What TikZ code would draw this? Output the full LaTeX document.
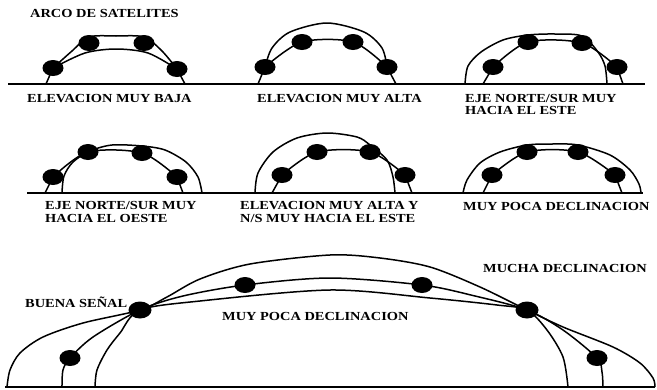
\documentclass[tikz,border=0pt]{standalone}
\usepackage{fontspec}
\newfontfamily\lblfont{Liberation Serif}[FakeStretch=1.17]
\usetikzlibrary{shapes.geometric}

\begin{document}
\begin{tikzpicture}[x=1pt, y=-1pt,
    every sat/.style={ellipse, fill=black, minimum width=21pt, minimum height=16pt, inner sep=0pt},
    big sat/.style={every sat, minimum width=23pt, minimum height=17pt},
    orbit/.style={line width=1.5pt},
    ground/.style={line width=1.7pt},
    lbl/.style={font=\lblfont\bfseries\fontsize{12.3}{14}\selectfont, inner sep=0pt, anchor=base west}]

    \useasboundingbox (0,0) rectangle (657,389);

    % Ground lines
    \coordinate (R1-l) at (8,84);   \coordinate (R1-r) at (645,84);
    \coordinate (R2-l) at (27,193); \coordinate (R2-r) at (643,193);
    \coordinate (R3-l) at (5,387);  \coordinate (R3-r) at (655,387);
    \draw[ground] (R1-l) -- (R1-r);
    \draw[ground] (R2-l) -- (R2-r);
    \draw[ground] (R3-l) -- (R3-r);

    % Title
    \node[lbl] (title) at (30,17) {ARCO DE SATELITES};

    % Panel A - elevacion muy baja
    \foreach \i/\x/\y in {1/53/68, 2/89/43, 3/144/43, 4/177/69}
        \node[every sat] (A-\i) at (\x,\y) {};
    \coordinate (A-l) at (46,84);
    \coordinate (A-r) at (185,84);
    \draw[orbit] (A-l) -- (A-1.center);
    \draw[orbit] (A-r) -- (A-4.center);
    \draw[orbit] plot[smooth] coordinates {(A-1.center) (72,51) (89,37) (116,36) (144,37) (162,51) (A-4.center)};
    \draw[orbit] plot[smooth] coordinates {(A-1.center) (85,53) (116,49) (148,53) (A-4.center)};
    \node[lbl] (A-txt) at (27,102) {ELEVACION MUY BAJA};

    % Panel B - elevacion muy alta
    \foreach \i/\x/\y in {1/265/67, 2/302/42, 3/353/42, 4/387/67}
        \node[every sat] (B-\i) at (\x,\y) {};
    \coordinate (B-l) at (258,84);
    \coordinate (B-r) at (396,84);
    \draw[orbit] (B-l) -- (B-1.center);
    \draw[orbit] (B-r) -- (B-4.center);
    \draw[orbit] plot[smooth] coordinates {(B-1.center) (B-2.center) (B-3.center) (B-4.center)};
    \draw[orbit] plot[smooth] coordinates {(B-1.center) (272,48) (290,32) (327,23) (364,32) (382,48) (B-4.center)};
    \node[lbl] (B-txt) at (257,102) {ELEVACION MUY ALTA};

    % Panel C - eje norte/sur hacia el este
    \foreach \i/\x/\y in {1/493/67, 2/528/42, 3/582/43, 4/617/67}
        \node[every sat] (C-\i) at (\x,\y) {};
    \coordinate (C-l) at (483,84);
    \coordinate (C-r) at (623,84);
    \coordinate (C-a) at (465,84);
    \coordinate (C-b) at (607,84);
    \draw[orbit] (C-l) -- (C-1.center);
    \draw[orbit] (C-r) -- (C-4.center);
    \draw[orbit] plot[smooth] coordinates {(C-1.center) (C-2.center) (C-3.center) (C-4.center)};
    \draw[orbit] plot[smooth] coordinates {(C-a) (468,66) (481,52) (503,40) (528,35) (555,34) (582,36) (598,52) (605,66) (C-b)};
    \node[lbl] (C-txt1) at (465,102) {EJE NORTE/SUR MUY};
    \node[lbl] (C-txt2) at (465,114) {HACIA EL ESTE};

    % Panel D - eje norte/sur hacia el oeste
    \foreach \i/\x/\y in {1/53/177, 2/88/152, 3/142/153, 4/177/177}
        \node[every sat] (D-\i) at (\x,\y) {};
    \coordinate (D-l) at (45,193);
    \coordinate (D-r) at (183,193);
    \coordinate (D-a) at (62,193);
    \coordinate (D-b) at (202,193);
    \draw[orbit] (D-l) -- (D-1.center);
    \draw[orbit] (D-r) -- (D-4.center);
    \draw[orbit] plot[smooth] coordinates {(D-1.center) (D-2.center) (D-3.center) (D-4.center)};
    \draw[orbit] plot[smooth] coordinates {(D-a) (64,176) (73,162) (90,151) (112,145) (142,146) (165,150) (186,162) (198,177) (D-b)};
    \node[lbl] (D-txt1) at (45,209) {EJE NORTE/SUR MUY};
    \node[lbl] (D-txt2) at (45,222) {HACIA EL OESTE};

    % Panel E - elevacion muy alta y N/S hacia el este
    \foreach \i/\x/\y in {1/282/175, 2/317/152, 3/370/152, 4/405/175}
        \node[every sat] (E-\i) at (\x,\y) {};
    \coordinate (E-l) at (272,193);
    \coordinate (E-r) at (412,193);
    \coordinate (E-a) at (255,193);
    \coordinate (E-b) at (395,193);
    \draw[orbit] (E-l) -- (E-1.center);
    \draw[orbit] (E-r) -- (E-4.center);
    \draw[orbit] plot[smooth] coordinates {(E-1.center) (E-2.center) (E-3.center) (E-4.center)};
    \draw[orbit] plot[smooth] coordinates {(E-a) (258,173) (273,152) (297,138) (327,133) (357,137) (370,145) (387,160) (393,177) (E-b)};
    \node[lbl] (E-txt1) at (240,209) {ELEVACION MUY ALTA Y};
    \node[lbl] (E-txt2) at (240,222) {N/S MUY HACIA EL ESTE};

    % Panel F - muy poca declinacion
    \foreach \i/\x/\y in {1/492/175, 2/527/152, 3/578/152, 4/615/175}
        \node[every sat] (F-\i) at (\x,\y) {};
    \coordinate (F-l) at (483,193);
    \coordinate (F-r) at (622,193);
    \coordinate (F-a) at (463,193);
    \coordinate (F-b) at (641,193);
    \draw[orbit] (F-l) -- (F-1.center);
    \draw[orbit] (F-r) -- (F-4.center);
    \draw[orbit] plot[smooth] coordinates {(F-1.center) (F-2.center) (F-3.center) (F-4.center)};
    \draw[orbit] plot[smooth] coordinates {(F-a) (467,180) (480,163) (500,152) (527,145) (552,144) (578,145) (610,155) (630,170) (639,184) (F-b)};
    \node[lbl] (F-txt) at (463,210) {MUY POCA DECLINACION};

    % Bottom - buena senal / declinacion
    \foreach \i/\x/\y in {1/70/358, 3/245/285, 4/422/285, 6/597/358}
        \node[every sat] (G-\i) at (\x,\y) {};
    \node[big sat] (G-2) at (140,310) {};
    \node[big sat] (G-5) at (527,310) {};
    \coordinate (G-a) at (7,387);   \coordinate (G-b) at (655,387);
    \coordinate (G-c) at (62,387);  \coordinate (G-d) at (603,387);
    \coordinate (G-e) at (95,387);  \coordinate (G-f) at (568,387);
    \draw[orbit] plot[smooth] coordinates {(G-a) (10,370) (20,353) (43,337) (83,323) (G-2.center) (167,297) (200,279) (250,264) (330,255) (380,258) (430,267) (480,287) (G-5.center) (563,327) (613,347) (640,363) (653,378) (G-b)};
    \draw[orbit] plot[smooth] coordinates {(G-c) (63,370) (G-1.center) (93,337) (G-2.center) (183,296) (G-3.center) (330,278) (G-4.center) (475,296) (G-5.center) (563,330) (G-6.center) (602,372) (G-d)};
    \draw[orbit] plot[smooth] coordinates {(G-e) (97,370) (107,350) (120,333) (G-2.center) (200,301) (330,290) (430,298) (497,305) (G-5.center) (547,330) (563,357) (G-f)};
    \node[lbl] (G-txt1) at (25,307) {BUENA SEÑAL};
    \node[lbl] (G-txt2) at (222,320) {MUY POCA DECLINACION};
    \node[lbl] (G-txt3) at (483,272) {MUCHA DECLINACION};

\end{tikzpicture}
\end{document}
